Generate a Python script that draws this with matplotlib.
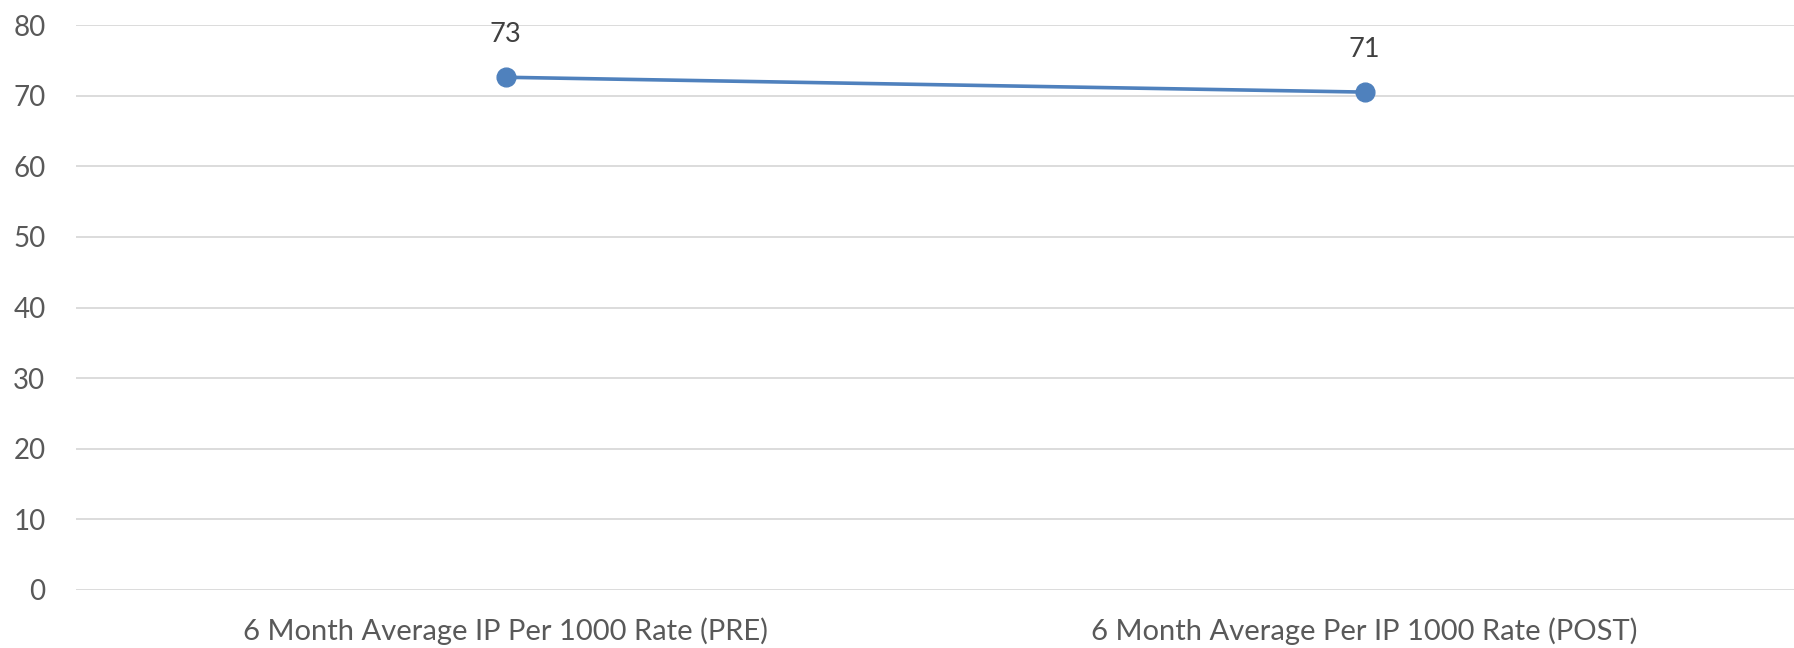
import matplotlib
matplotlib.use("Agg")
import matplotlib.pyplot as plt
from matplotlib import font_manager

categories = ["6 Month Average IP Per 1000 Rate (PRE)", "6 Month Average Per IP 1000 Rate (POST)"]
values = [72.6, 70.5]
value_labels = ["73", "71"]
yticks = [0, 10, 20, 30, 40, 50, 60, 70, 80]

avail = {f.name for f in font_manager.fontManager.ttflist}
fam = [f for f in ["Liberation Sans Narrow", "Lato", "DejaVu Sans"] if f in avail]
plt.rcParams['font.family'] = fam

fig = plt.figure(figsize=(17.94, 6.48), dpi=100)
ax = fig.add_axes([76/1794, 58/648, 1 - 76/1794, (590 - 25)/648])

x = list(range(len(categories)))
ax.plot(x, values, color="#4F81BD", linewidth=2.6, marker="o", markersize=13.5, zorder=3)
for xi, v, lab in zip(x, values, value_labels):
    ax.annotate(lab, (xi, v), xytext=(0, 31), textcoords="offset points",
                ha="center", va="center", fontsize=19.5, color="#404040")

ax.set_xlim(-0.5, 1.5)
ax.set_ylim(0, 80)
ax.set_yticks(yticks)
ax.set_xticks(x)
ax.set_xticklabels(categories, fontsize=21)
ax.tick_params(axis="y", length=0, labelsize=20, colors="#595959", pad=22)
ax.tick_params(axis="x", length=0, colors="#595959", pad=20)
ax.grid(axis="y", color="#D9D9D9", linewidth=1.3)
ax.set_axisbelow(True)
for s in ax.spines.values():
    s.set_visible(False)

fig.savefig("out.png", dpi=100)
